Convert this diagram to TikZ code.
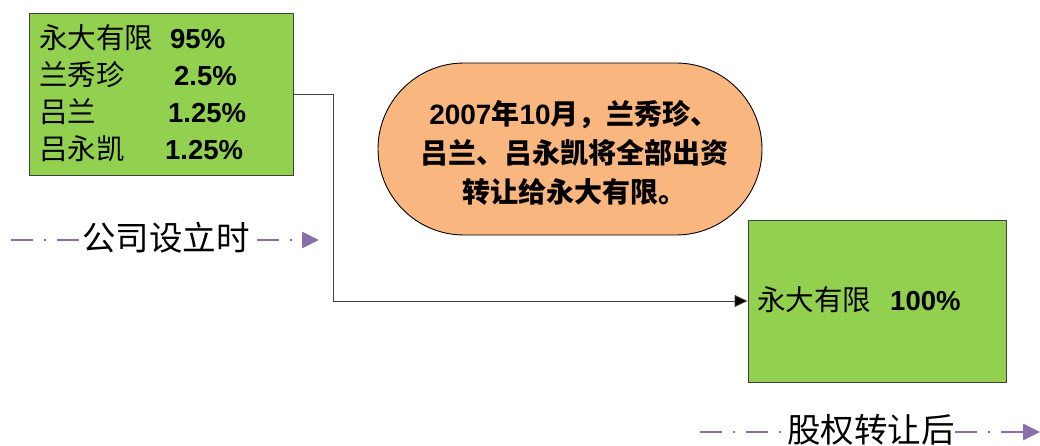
\documentclass[tikz,border=0pt]{standalone}
\usepackage{fontspec}
\setmainfont{Liberation Sans}
\newfontfamily\cjk{Noto Sans CJK SC}
\newfontfamily\lat{Liberation Sans}
\usetikzlibrary{arrows.meta}
\definecolor{boxgreen}{RGB}{146,208,80}
\definecolor{pillorange}{RGB}{249,182,127}
\definecolor{tlpurple}{RGB}{138,112,170}
\definecolor{edgegray}{RGB}{64,64,64}
\tikzset{
  gbox/.style={draw=edgegray, line width=0.9pt, fill=boxgreen, inner sep=0pt},
  pill/.style={draw=black, line width=0.9pt, fill=pillorange, rounded corners=86pt, minimum width=384pt, minimum height=172pt, inner sep=0pt},
  cjktxt/.style={font=\cjk\fontsize{28.5}{32}\selectfont, inner sep=0pt, anchor=west, text height=21pt, text depth=4pt},
  numtxt/.style={font=\lat\bfseries\fontsize{27.5}{32}\selectfont, inner sep=0pt, anchor=west, text height=21pt, text depth=4pt},
  pilltxt/.style={font=\cjk\bfseries\fontsize{28}{39}\selectfont, align=center, inner sep=0pt},
  lbl/.style={font=\cjk\fontsize{33.5}{36}\selectfont, inner sep=0pt, anchor=west, text height=26pt, text depth=5pt},
  tl/.style={draw=tlpurple, line width=2.6pt, dash pattern=on 22pt off 11pt on 2pt off 11pt},
  tlarrow/.style={tl, -{Triangle[length=17pt,width=16pt,fill=tlpurple]}},
  conn/.style={draw=edgegray, line width=0.9pt},
}
\begin{document}
\begin{tikzpicture}[x=1pt,y=-1pt]
\useasboundingbox (0,0) rectangle (1040,446);
% boxes
\node[gbox, minimum width=264pt, minimum height=162pt] (b1) at (161,94) {};
\node[gbox, minimum width=258pt, minimum height=162pt] (b2) at (877,301) {};
\node[pill] (p) at (570,149) {};
% box 1 text
\node[cjktxt] (r1a) at (39,40) {永大有限};
\node[numtxt] (r1b) at (170,40) {95\%};
\node[cjktxt] (r2a) at (39,77) {兰秀珍};
\node[numtxt] (r2b) at (174,77) {2.5\%};
\node[cjktxt] (r3a) at (39,114) {吕兰};
\node[numtxt] (r3b) at (168,114) {1.25\%};
\node[cjktxt] (r4a) at (39,151) {吕永凯};
\node[numtxt] (r4b) at (165,151) {1.25\%};
% box 2 text
\node[cjktxt] (s1a) at (757,302) {永大有限};
\node[numtxt] (s1b) at (890,302) {100\%};
% pill text
\node[pilltxt] (pt) at (574,153) {{\lat\bfseries 2007}年{\lat\bfseries 10}月，兰秀珍、\\吕兰、吕永凯将全部出资\\转让给永大有限。};
% connector
\coordinate (c) at (333,0);
\draw[conn, -{Triangle[length=13pt,width=12pt,fill=black]}] (b1.east) -- (b1.east -| c) |- (b2.west);
% timeline labels
\node[lbl] (t1) at (82,240) {公司设立时};
\coordinate (t1s) at (11,240);
\coordinate (t1e) at (319,240);
\draw[tl] (t1s) -- (t1.west);
\draw[tlarrow] (257,240) -- (t1e);
\node[lbl] (t2) at (787,432) {股权转让后};
\coordinate (t2s) at (700,432);
\coordinate (t2e) at (1040,432);
\draw[tl] (t2s) -- (t2.west);
\draw[tlarrow] (t2.east) -- (t2e);
\end{tikzpicture}
\end{document}
